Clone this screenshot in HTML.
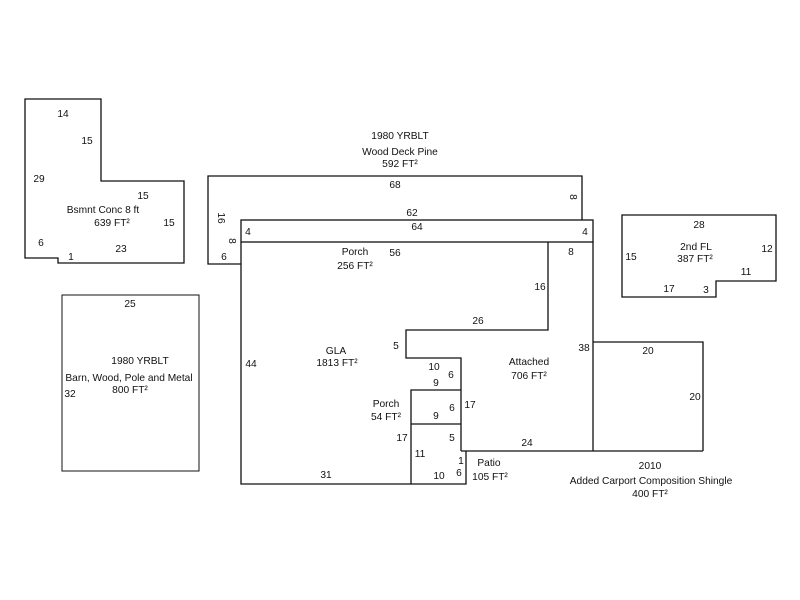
<!DOCTYPE html>
<html><head><meta charset="utf-8"><style>
html,body{margin:0;padding:0;background:#fff;}
svg{display:block;}
text{font-family:"Liberation Sans",Arial,sans-serif;font-size:10.2px;fill:#111;}
</style></head><body>
<svg width="800" height="600" viewBox="0 0 800 600" xmlns="http://www.w3.org/2000/svg">
<g fill="none" stroke="#111" stroke-width="1.3">
<polygon points="25,99 101,99 101,181 184,181 184,263 58,263 58,258 25,258"/>
<polyline points="241,264 208,264 208,176 582,176 582,220"/>
<rect x="241" y="220" width="352" height="22"/>
<polyline points="241,242 241,484 466,484 466,451"/>
<line x1="593" y1="242" x2="593" y2="451"/>
<line x1="461" y1="451" x2="703" y2="451"/>
<polyline points="548,242 548,330 406,330 406,358 461,358 461,451"/>
<polyline points="411,484 411,390 461,390"/>
<line x1="411" y1="424" x2="461" y2="424"/>
<polyline points="593,342 703,342 703,451"/>
<polygon points="622,215 776,215 776,281 716,281 716,297 622,297"/>
<rect x="62" y="295" width="137" height="176" stroke-width="1"/>
</g>
<g text-anchor="middle">
<text x="63" y="117">14</text>
<text x="87" y="144">15</text>
<text x="39" y="182">29</text>
<text x="143" y="199">15</text>
<text x="103" y="213">Bsmnt Conc 8 ft</text>
<text x="112" y="226">639 FT²</text>
<text x="169" y="226">15</text>
<text x="41" y="246">6</text>
<text x="121" y="252">23</text>
<text x="71" y="260">1</text>
<text x="400" y="139">1980 YRBLT</text>
<text x="400" y="155">Wood Deck Pine</text>
<text x="400" y="167">592 FT²</text>
<text x="395" y="188">68</text>
<text x="412" y="216">62</text>
<text x="417" y="230">64</text>
<text x="248" y="235">4</text>
<text x="585" y="235">4</text>
<text x="224" y="260">6</text>
<text x="355" y="255">Porch</text>
<text x="395" y="256">56</text>
<text x="355" y="269">256 FT²</text>
<text x="571" y="255">8</text>
<text x="540" y="290">16</text>
<text x="478" y="324">26</text>
<text x="396" y="349">5</text>
<text x="336" y="354">GLA</text>
<text x="337" y="366">1813 FT²</text>
<text x="251" y="367">44</text>
<text x="434" y="370">10</text>
<text x="451" y="378">6</text>
<text x="436" y="386">9</text>
<text x="529" y="365">Attached</text>
<text x="529" y="379">706 FT²</text>
<text x="584" y="351">38</text>
<text x="386" y="407">Porch</text>
<text x="386" y="420">54 FT²</text>
<text x="452" y="411">6</text>
<text x="470" y="408">17</text>
<text x="436" y="419">9</text>
<text x="402" y="441">17</text>
<text x="452" y="441">5</text>
<text x="527" y="446">24</text>
<text x="420" y="457">11</text>
<text x="461" y="464">1</text>
<text x="459" y="476">6</text>
<text x="439" y="479">10</text>
<text x="489" y="466">Patio</text>
<text x="490" y="480">105 FT²</text>
<text x="326" y="478">31</text>
<text x="648" y="354">20</text>
<text x="695" y="400">20</text>
<text x="650" y="469">2010</text>
<text x="651" y="484">Added Carport Composition Shingle</text>
<text x="650" y="497">400 FT²</text>
<text x="699" y="228">28</text>
<text x="696" y="250">2nd FL</text>
<text x="695" y="262">387 FT²</text>
<text x="767" y="252">12</text>
<text x="631" y="260">15</text>
<text x="746" y="275">11</text>
<text x="669" y="292">17</text>
<text x="706" y="293">3</text>
<text x="130" y="307">25</text>
<text x="140" y="364">1980 YRBLT</text>
<text x="129" y="381">Barn, Wood, Pole and Metal</text>
<text x="130" y="393">800 FT²</text>
<text x="70" y="397">32</text>
</g>
<text transform="translate(218,218) rotate(90)" text-anchor="middle">16</text>
<text transform="translate(229,241) rotate(90)" text-anchor="middle">8</text>
<text transform="translate(570,197) rotate(90)" text-anchor="middle">8</text>
</svg>
</body></html>
